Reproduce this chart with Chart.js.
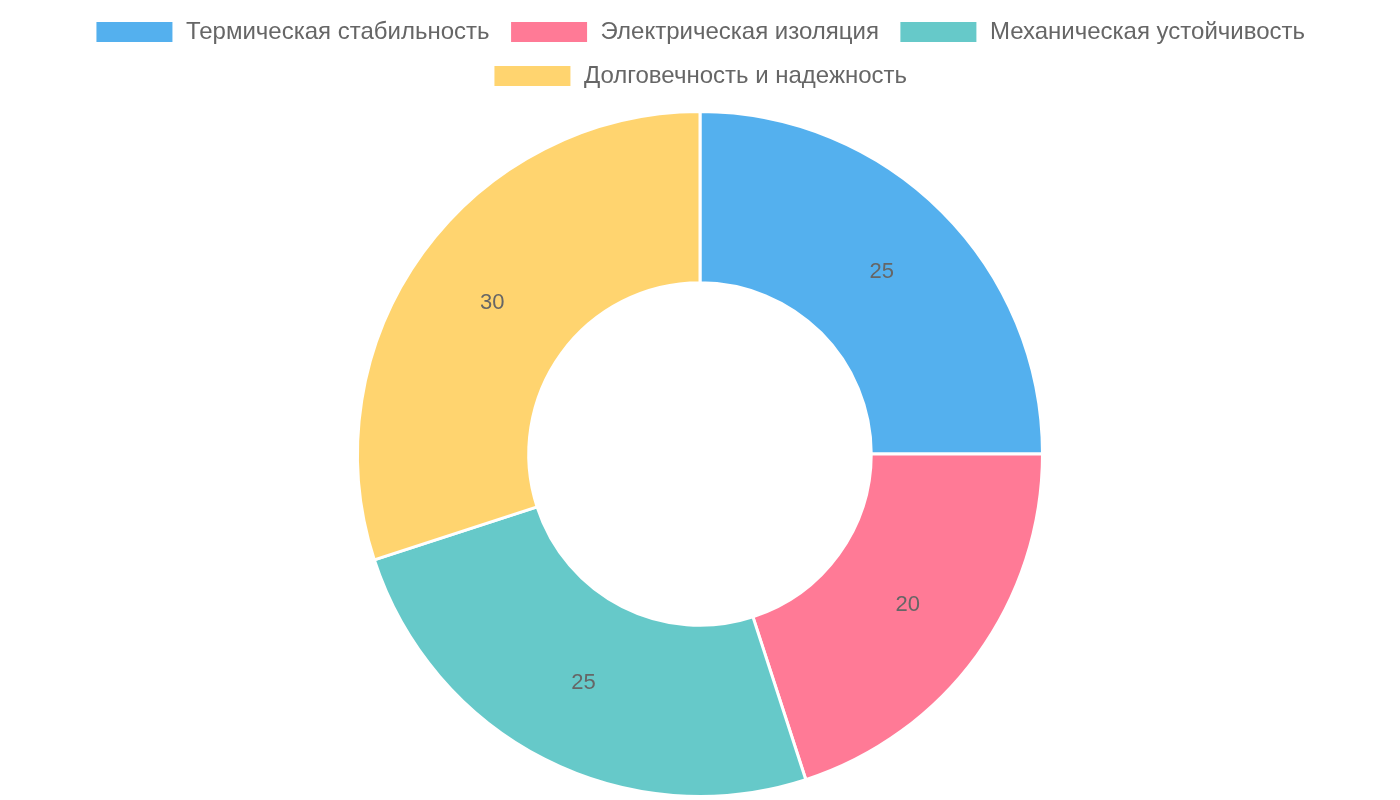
<!DOCTYPE html>
<html>
<head>
<meta charset="utf-8">
<script src="https://cdn.jsdelivr.net/npm/chart.js@4"></script>
<style>
  html, body { margin: 0; padding: 0; background: #fff; }
  #wrap { width: 1400px; height: 800px; }
</style>
</head>
<body>
<div id="wrap"><canvas id="chart"></canvas></div>
<script>
const labels = [
    'Термическая стабильность',
    'Электрическая изоляция',
    'Механическая устойчивость',
    'Долговечность и надежность'
];
const values = [25, 20, 25, 30];
const colors = [
    'rgba(54, 162, 235, 0.85)',
    'rgba(255, 99, 132, 0.85)',
    'rgba(75, 192, 192, 0.85)',
    'rgba(255, 205, 86, 0.85)'
];

// value labels drawn in the middle of each arc
const valueLabels = {
    id: 'valueLabels',
    afterDatasetsDraw(chart) {
        const ctx = chart.ctx;
        const meta = chart.getDatasetMeta(0);
        ctx.save();
        ctx.font = '22px "Liberation Sans", Arial, sans-serif';
        ctx.fillStyle = '#666';
        ctx.textAlign = 'center';
        ctx.textBaseline = 'middle';
        meta.data.forEach((arc, i) => {
            const p = arc.tooltipPosition();
            ctx.fillText(String(chart.data.datasets[0].data[i]), p.x, p.y);
        });
        ctx.restore();
    }
};

// a bit of room between the legend and the doughnut
const legendGap = {
    id: 'legendGap',
    beforeInit(chart) {
        const fit = chart.legend.fit;
        chart.legend.fit = function () {
            fit.call(this);
            this.height += 12;
        };
    }
};

Chart.defaults.font.family = '"Liberation Sans", Arial, sans-serif';
Chart.defaults.color = '#666';

new Chart(document.getElementById('chart'), {
    type: 'doughnut',
    data: {
        labels: labels,
        datasets: [{
            data: values,
            backgroundColor: colors,
            borderColor: '#fff',
            borderWidth: 3
        }]
    },
    options: {
        responsive: true,
        maintainAspectRatio: false,
        animation: false,
        cutout: '50%',
        layout: { padding: { bottom: 2 } },
        plugins: {
            legend: {
                position: 'top',
                labels: {
                    boxWidth: 79,
                    boxHeight: 23,
                    padding: 20,
                    font: { size: 24 },
                    color: '#666'
                }
            },
            tooltip: { enabled: false }
        }
    },
    plugins: [legendGap, valueLabels]
});
</script>
</body>
</html>
